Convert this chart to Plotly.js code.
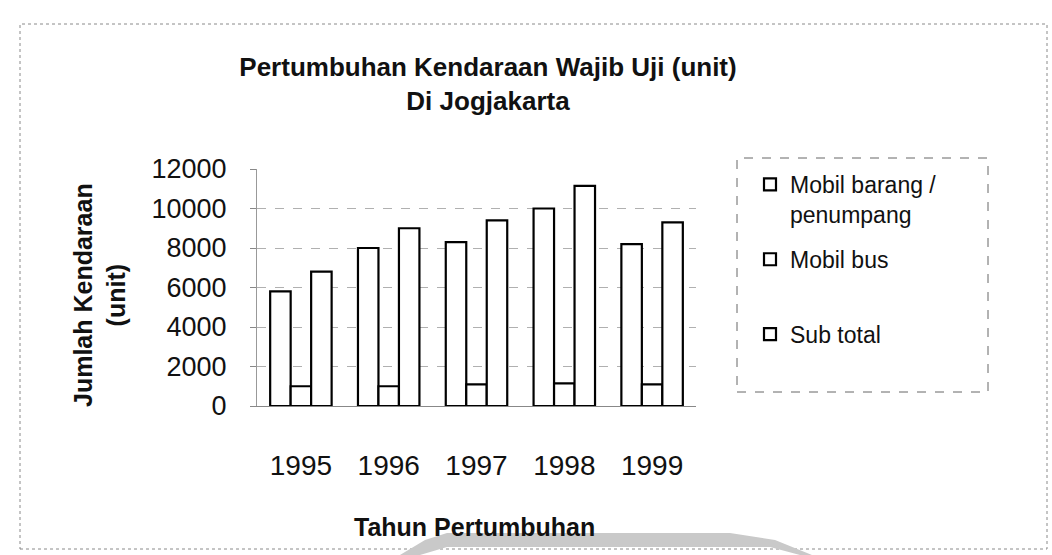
<!DOCTYPE html>
<html>
<head>
<meta charset="utf-8">
<script src="https://cdn.plot.ly/plotly-3.0.1.min.js"></script>
<style>html,body{margin:0;padding:0;background:#fff;}#chart{width:1052px;height:555px;}</style>
</head>
<body>
<div id="chart"></div>
<script>
// ---- data ----
var years = ['1995', '1996', '1997', '1998', '1999'];
var mobilBarang = [5800, 8000, 8300, 10000, 8200];
var mobilBus = [1000, 1000, 1100, 1150, 1100];
var subTotal = [6800, 9000, 9400, 11150, 9300];
var seriesNames = ['Mobil barang /<br>penumpang', 'Mobil bus<br> ', 'Sub total'];
var chartTitle = 'Pertumbuhan Kendaraan Wajib Uji (unit)<br>Di Jogjakarta';
var xTitle = 'Tahun Pertumbuhan';
var yTitle = 'Jumlah Kendaraan<br>(unit)';

// ---- layout geometry (pixels) ----
var W = 1052, H = 555;
var L = 257, R = 696, T = 169, B = 406;
function px(x) { return (x - L) / (R - L); }
function py(y) { return (B - y) / (B - T); }

var FONT = 'Liberation Sans, Arial, sans-serif';

function barTrace(name, vals) {
  return {
    type: 'bar', name: name, x: years, y: vals, legendgroup: name,
    marker: {color: '#ffffff', line: {color: '#000000', width: 2.2}},
    hoverinfo: 'x+y'
  };
}

var data = [
  barTrace(seriesNames[0], mobilBarang),
  barTrace(seriesNames[1], mobilBus),
  barTrace(seriesNames[2], subTotal)
];

function pathFrom(pts) {
  return pts.map(function (p, i) { return (i ? 'L' : 'M') + px(p[0]).toFixed(4) + ',' + py(p[1]).toFixed(4); }).join(' ') + ' Z';
}
var wm = pathFrom([[400,555],[425,540],[447,533],[730,533],[775,540],[812,555],[800,555],[770,547],[447,547],[420,555]]);

var layout = {
  width: W, height: H,
  margin: {l: L, r: W - R, t: T, b: H - B, pad: 0},
  paper_bgcolor: '#ffffff', plot_bgcolor: 'rgba(0,0,0,0)',
  font: {family: FONT, color: '#111111'},
  barmode: 'group', bargap: 0.3, bargroupgap: 0,
  title: {
    text: chartTitle, font: {family: FONT, size: 26, color: '#111111', weight: 'bold'},
    xref: 'paper', x: px(488), xanchor: 'center',
    yref: 'container', y: 1 - 76 / H, yanchor: 'top'
  },
  xaxis: {
    type: 'category', showgrid: false, zeroline: false,
    showline: true, linecolor: '#888888', linewidth: 1,
    ticks: '', tickfont: {family: FONT, size: 28, color: '#111111'},
    ticklabelstandoff: 34, fixedrange: true
  },
  yaxis: {
    range: [0, 12000], dtick: 2000, tick0: 0, tickformat: 'd',
    showgrid: true, gridcolor: '#b0b0b0', griddash: 'dash', gridwidth: 1,
    zeroline: false, showline: true, linecolor: '#999999', linewidth: 1,
    ticks: 'outside', ticklen: 6, tickcolor: '#888888',
    tickfont: {family: FONT, size: 27, color: '#111111'},
    ticklabelstandoff: 18, fixedrange: true
  },
  showlegend: true,
  legend: {
    x: px(750), y: py(163), xanchor: 'left', yanchor: 'top',
    xref: 'paper', yref: 'paper',
    bgcolor: 'rgba(0,0,0,0)', borderwidth: 0,
    font: {family: FONT, size: 23, color: '#111111'},
    valign: 'top', tracegroupgap: 12, traceorder: 'grouped', itemwidth: 30
  },
  annotations: [
    {text: xTitle, xref: 'paper', yref: 'paper', x: px(474), y: py(527),
     xanchor: 'center', yanchor: 'middle', showarrow: false,
     font: {family: FONT, size: 25, color: '#111111', weight: 'bold'}},
    {text: yTitle, xref: 'paper', yref: 'paper', x: px(99), y: py(295),
     xanchor: 'center', yanchor: 'middle', showarrow: false, textangle: -90,
     font: {family: FONT, size: 25, color: '#111111', weight: 'bold'}}
  ],
  shapes: [
    {type: 'rect', xref: 'paper', yref: 'paper', x0: px(20), x1: px(1047), y0: py(549), y1: py(24),
     line: {color: '#8a8a8a', width: 1, dash: 'dot'}, fillcolor: 'rgba(0,0,0,0)', layer: 'below'},
    {type: 'rect', xref: 'paper', yref: 'paper', x0: px(737), x1: px(988), y0: py(392), y1: py(158),
     line: {color: '#666666', width: 1, dash: 'dash'}, fillcolor: 'rgba(0,0,0,0)', layer: 'below'},
    {type: 'path', xref: 'paper', yref: 'paper', path: wm,
     line: {width: 0}, fillcolor: '#c9c9c9', layer: 'below'}
  ]
};

Plotly.newPlot('chart', data, layout, {staticPlot: true, displayModeBar: false});
</script>
</body>
</html>
